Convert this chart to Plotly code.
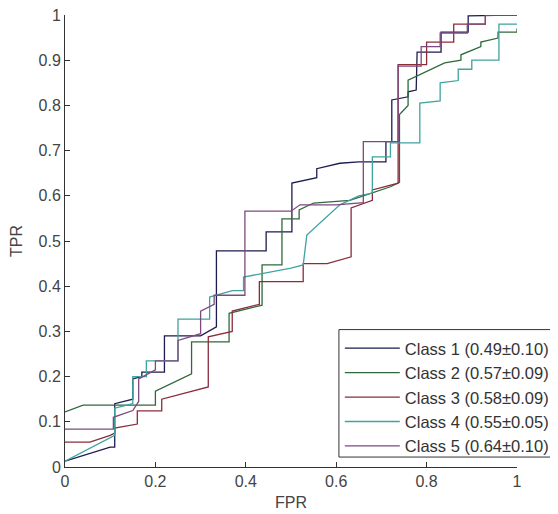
import plotly.graph_objects as go

names = ["Class 1 (0.49\u00b10.10)", "Class 2 (0.57\u00b10.09)", "Class 3 (0.58\u00b10.09)",
         "Class 4 (0.55\u00b10.05)", "Class 5 (0.64\u00b10.10)"]
colors = ["#1c1c50", "#2f6a3c", "#8a2c3c", "#3fa3a0", "#7c4a7e"]

x1 = [0, 0.10, 0.11, 0.11, 0.15, 0.15, 0.17, 0.17, 0.22, 0.22, 0.30, 0.335, 0.335, 0.445, 0.445,
      0.502, 0.502, 0.557, 0.557, 0.608, 0.65, 0.71, 0.71, 0.723, 0.723, 0.759, 0.759, 0.777,
      0.779, 0.832, 0.832, 0.892, 0.892, 1.0]
y1 = [0.013, 0.044, 0.044, 0.14, 0.15, 0.195, 0.20, 0.21, 0.21, 0.29, 0.29, 0.31, 0.478, 0.478,
      0.52, 0.52, 0.628, 0.64, 0.66, 0.672, 0.675, 0.675, 0.72, 0.72, 0.812, 0.819, 0.83, 0.834,
      0.918, 0.918, 0.962, 0.962, 0.998, 1.0]

x2 = [0, 0.04, 0.20, 0.20, 0.28, 0.28, 0.363, 0.363, 0.436, 0.436, 0.48, 0.48, 0.518, 0.518,
      0.55, 0.63, 0.66, 0.72, 0.74, 0.74, 0.759, 0.759, 0.84, 0.876, 0.876, 0.92, 0.92, 0.958,
      0.958, 1.0, 1.0]
y2 = [0.122, 0.137, 0.137, 0.168, 0.206, 0.277, 0.277, 0.34, 0.358, 0.447, 0.447, 0.549, 0.549,
      0.569, 0.584, 0.59, 0.60, 0.62, 0.63, 0.78, 0.80, 0.856, 0.894, 0.90, 0.912, 0.93, 0.94,
      0.949, 0.962, 0.962, 0.97]

x3 = [0, 0.055, 0.10, 0.11, 0.11, 0.16, 0.16, 0.214, 0.214, 0.317, 0.317, 0.37, 0.37, 0.43,
      0.43, 0.527, 0.527, 0.58, 0.633, 0.633, 0.68, 0.68, 0.737, 0.737, 0.80, 0.80, 0.86, 0.86,
      0.93, 0.93, 1.0]
y3 = [0.055, 0.055, 0.07, 0.075, 0.086, 0.095, 0.124, 0.124, 0.15, 0.177, 0.288, 0.30, 0.345,
      0.36, 0.41, 0.41, 0.45, 0.45, 0.465, 0.573, 0.59, 0.613, 0.628, 0.89, 0.89, 0.94, 0.94,
      0.98, 0.98, 1.0, 1.0]

x4 = [0, 0.07, 0.10, 0.11, 0.11, 0.15, 0.15, 0.18, 0.18, 0.25, 0.25, 0.32, 0.32, 0.37, 0.395,
      0.395, 0.50, 0.527, 0.535, 0.608, 0.65, 0.68, 0.68, 0.72, 0.72, 0.785, 0.785, 0.83, 0.83,
      0.87, 0.87, 0.90, 0.90, 0.96, 0.96, 1.0]
y4 = [0.013, 0.05, 0.065, 0.07, 0.13, 0.14, 0.20, 0.20, 0.235, 0.235, 0.327, 0.327, 0.376,
      0.39, 0.39, 0.42, 0.44, 0.447, 0.513, 0.58, 0.60, 0.606, 0.686, 0.686, 0.717, 0.717,
      0.805, 0.81, 0.85, 0.855, 0.88, 0.88, 0.90, 0.90, 0.98, 0.98]

x5 = [0, 0.107, 0.107, 0.15, 0.163, 0.163, 0.20, 0.20, 0.25, 0.25, 0.30, 0.30, 0.33, 0.33,
      0.398, 0.398, 0.50, 0.52, 0.60, 0.66, 0.66, 0.737, 0.737, 0.788, 0.788, 0.83, 0.83, 0.89,
      0.89, 0.93, 0.93, 1.0]
y5 = [0.084, 0.084, 0.11, 0.125, 0.145, 0.195, 0.215, 0.235, 0.235, 0.28, 0.295, 0.345, 0.36,
      0.38, 0.38, 0.566, 0.566, 0.58, 0.58, 0.585, 0.72, 0.72, 0.887, 0.887, 0.93, 0.93, 0.96,
      0.96, 0.98, 0.98, 1.0, 1.0]

xs = [x1, x2, x3, x4, x5]
ys = [y1, y2, y3, y4, y5]

x_ticks = [0, 0.2, 0.4, 0.6, 0.8, 1]
x_ticktext = ["0", "0.2", "0.4", "0.6", "0.8", "1"]
y_ticks = [0, 0.1, 0.2, 0.3, 0.4, 0.5, 0.6, 0.7, 0.8, 0.9, 1]
y_ticktext = ["0", "0.1", "0.2", "0.3", "0.4", "0.5", "0.6", "0.7", "0.8", "0.9", "1"]

fig = go.Figure()
for n, c, x, y in zip(names, colors, xs, ys):
    fig.add_trace(go.Scatter(x=x, y=y, mode="lines", name=n,
                             line=dict(color=c, width=1.3)))

# legend frame (extends past the right edge like the original)
fig.add_shape(type="rect", xref="paper", yref="paper", x0=0.606, x1=1.3, y0=0.022, y1=0.304,
              fillcolor="white", line=dict(color="#333", width=1), layer="above")

axis_font = dict(family="Liberation Sans, Arial, sans-serif", size=16, color="#444")
fig.update_layout(
    width=550, height=506,
    margin=dict(l=57, r=41, t=7, b=47, autoexpand=False),
    paper_bgcolor="white", plot_bgcolor="white",
    font=axis_font,
    showlegend=True,
    legend=dict(x=0.608, y=0.301, xanchor="left", yanchor="top",
                bgcolor="rgba(0,0,0,0)", borderwidth=0,
                itemwidth=55,
                font=dict(family="Liberation Sans, Arial, sans-serif", size=16.5, color="#333"),
                tracegroupgap=0),
    xaxis=dict(range=[0, 1], tickvals=x_ticks, ticktext=x_ticktext, ticks="inside",
               ticklen=5, tickcolor="#333", showline=True, linecolor="#333", linewidth=1,
               showgrid=False, zeroline=False, ticklabeloverflow="allow",
               title=dict(text="FPR", standoff=7, font=axis_font)),
    yaxis=dict(range=[0, 1], tickvals=y_ticks, ticktext=y_ticktext, ticks="inside",
               ticklen=5, tickcolor="#333", showline=True, linecolor="#333", linewidth=1,
               showgrid=False, zeroline=False, ticklabeloverflow="allow",
               title=dict(text="TPR", standoff=11, font=axis_font)),
)

fig.write_html("out.html")
